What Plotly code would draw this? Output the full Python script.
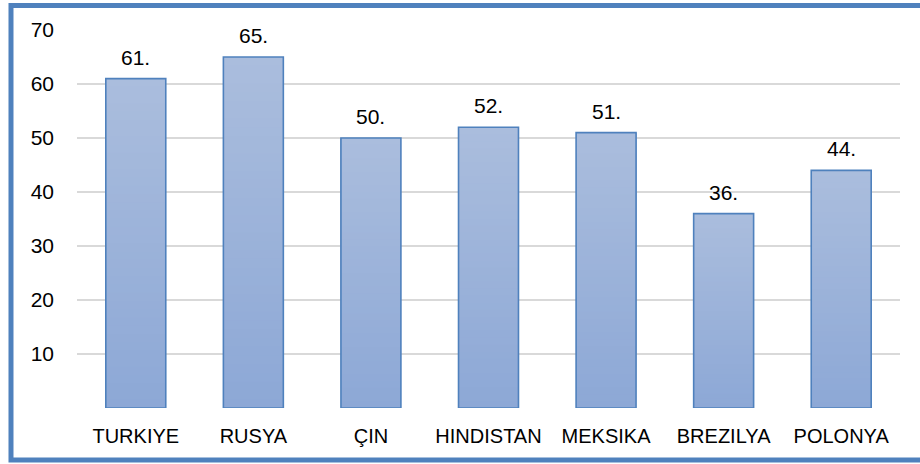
import plotly.graph_objects as go

categories = ["TURKIYE", "RUSYA", "ÇIN", "HINDISTAN", "MEKSIKA", "BREZILYA", "POLONYA"]
values = [61, 65, 50, 52, 51, 36, 44]
value_labels = ["61.", "65.", "50.", "52.", "51.", "36.", "44."]
tick_values = [0, 10, 20, 30, 40, 50, 60, 70]
tick_labels = ["", "10", "20", "30", "40", "50", "60", "70"]

top_rgb = (170, 189, 221)
bot_rgb = (141, 168, 214)
N = 40
FONT = "Liberation Sans, Arial, sans-serif"

fig = go.Figure()
for i in range(N):
    t = i / (N - 1)
    c = tuple(round(bot_rgb[k] + (top_rgb[k] - bot_rgb[k]) * t) for k in range(3))
    fig.add_trace(go.Bar(
        x=categories,
        y=[v - v * i / N for v in values],
        base=[v * i / N for v in values],
        marker=dict(color="rgb(%d,%d,%d)" % c, line=dict(width=0)),
        hoverinfo="skip", showlegend=False,
    ))

fig.add_trace(go.Bar(
    x=categories, y=values,
    marker=dict(color="rgba(0,0,0,0)", line=dict(color="#4f81bd", width=1.6)),
    showlegend=False,
))

for cat, v, lab in zip(categories, values, value_labels):
    fig.add_annotation(x=cat, y=v, text=lab, showarrow=False, yanchor="bottom",
                       yshift=8, font=dict(size=21, color="#000000", family=FONT))

fig.update_layout(
    width=920, height=464,
    margin=dict(l=77, r=20, t=30, b=56),
    paper_bgcolor="white", plot_bgcolor="white",
    barmode="overlay", bargap=0.49,
    font=dict(family=FONT, size=20, color="#000000"),
    xaxis=dict(showgrid=False, showline=False, ticks="", ticklabelstandoff=14,
               tickfont=dict(size=20)),
    yaxis=dict(range=[0, 70], tickvals=tick_values, ticktext=tick_labels,
               showgrid=True, gridcolor="#d9d9d9", gridwidth=1.5,
               zeroline=False, showline=False, ticks="", ticklabelstandoff=22,
               tickfont=dict(size=21)),
    shapes=[dict(type="rect", xref="paper", yref="paper",
                 x0=-0.0802, x1=1.035, y0=-0.1376, y1=1.0648,
                 line=dict(color="#4f81bd", width=5), layer="above")],
)

fig.write_html("out.html", config={"displayModeBar": False},
               post_script="document.body.style.margin='0';")
